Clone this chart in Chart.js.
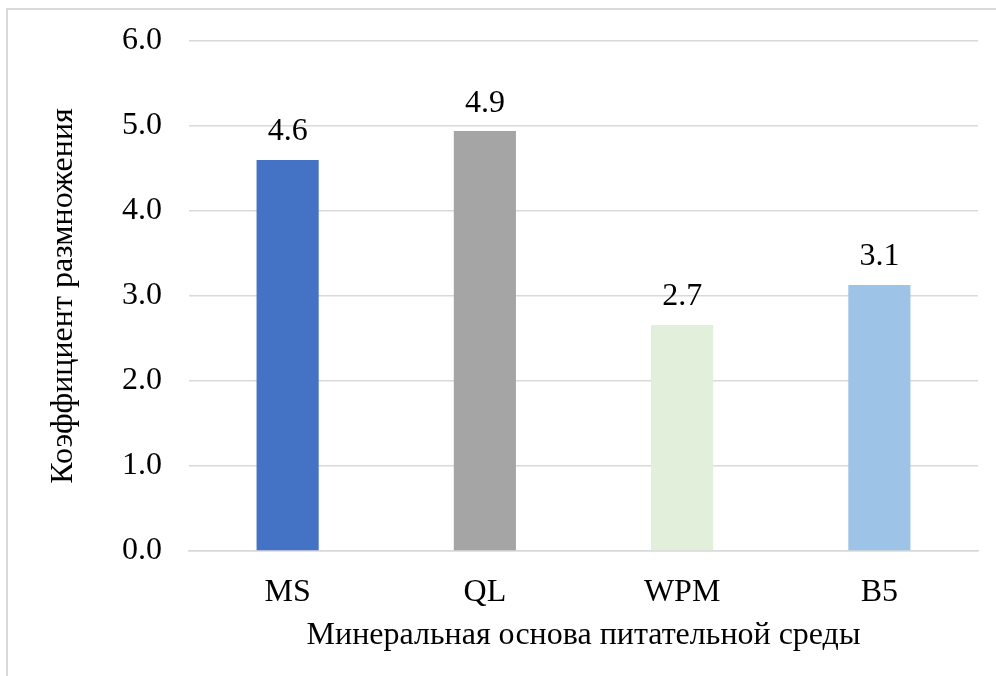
<!DOCTYPE html>
<html>
<head>
<meta charset="utf-8">
<script src="https://cdn.jsdelivr.net/npm/chart.js@4.4.0/dist/chart.umd.min.js"></script>
<style>
body{margin:0;background:#fff;}
#wrap{position:absolute;left:0;top:0;width:996px;height:676px;}
#frame{position:absolute;left:6px;top:8px;width:1000px;height:700px;border:2px solid #d9d9d9;box-sizing:border-box;}
canvas{position:absolute;left:0;top:0;}
</style>
</head>
<body>
<div id="wrap">
<div id="frame"></div>
<canvas id="chart" width="996" height="676"></canvas>
</div>
<script>
// data
let categories = ["MS","QL","WPM","B5"];
let values = [4.6, 4.94, 2.66, 3.13];
let barColors = ["#4472C4","#A5A5A5","#E2EFDA","#9DC3E6"];
let xTitle = "Минеральная основа питательной среды";
let yTitle = "Коэффициент размножения";

let fontFamily = "'Liberation Serif','Times New Roman',serif";
let fontSize = 32;

/* ================= VALUE LABELS ================= */

let valueLabels = {
id:"valueLabels",
afterDatasetsDraw(chart){
let ctx = chart.ctx;
let meta = chart.getDatasetMeta(0);
ctx.save();
ctx.font = fontSize + "px " + fontFamily;
ctx.fillStyle = "#000";
ctx.textAlign = "center";
ctx.textBaseline = "bottom";
meta.data.forEach((bar,i)=>{
ctx.fillText(values[i].toFixed(1), bar.x, bar.y - 12);
});
ctx.restore();
}
};

/* ================= CHART ================= */

new Chart(document.getElementById("chart"),{

type:'bar',

data:{
labels:categories,
datasets:[{
data:values,
backgroundColor:barColors,
barPercentage:0.315,
categoryPercentage:1
}]
},

options:{
responsive:false,
animation:false,
layout:{
padding:{left:0,right:18,top:41,bottom:0}
},
plugins:{
legend:{display:false},
tooltip:{enabled:false}
},
scales:{
x:{
grid:{display:false},
border:{display:true,color:"#d9d9d9",width:1.5},
ticks:{color:"#000",font:{family:fontFamily,size:fontSize},padding:14},
title:{display:true,text:xTitle,color:"#000",font:{family:fontFamily,size:fontSize},padding:{top:0,bottom:21}},
afterFit(scale){ scale.height = 125; }
},
y:{
min:0,
max:6,
grid:{color:"#d9d9d9",lineWidth:1.5,drawTicks:false},
border:{display:false},
ticks:{
stepSize:1,
color:"#000",
font:{family:fontFamily,size:fontSize},
padding:27,
callback:v=>v.toFixed(1)
},
title:{display:true,text:yTitle,color:"#000",font:{family:fontFamily,size:fontSize},padding:{top:44,bottom:0}},
afterFit(scale){
scale.width = 189;
scale.paddingTop = 0;
scale.paddingBottom = 0;
}
}
}
},

plugins:[valueLabels]

});
</script>
</body>
</html>
